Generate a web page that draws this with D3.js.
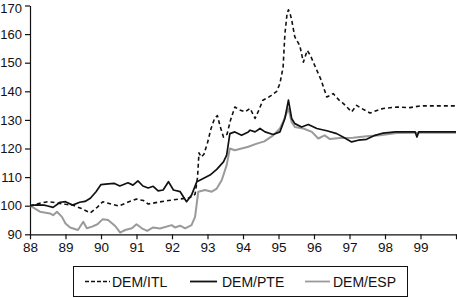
<!DOCTYPE html>
<html><head><meta charset="utf-8">
<script src="https://cdn.jsdelivr.net/npm/d3@7"></script>
<style>body{margin:0;background:#fff}svg{display:block;font-family:"Liberation Sans",Arial,sans-serif}</style>
</head><body><svg id="c" width="457" height="298"></svg>
<script>
const yearTicks = [88,89,90,91,92,93,94,95,96,97,98,99,100];
const valueTicks = [90,100,110,120,130,140,150,160,170];
const seriesNames = ["DEM/ITL","DEM/PTE","DEM/ESP"];

const itlT = [88,88.25,88.5,88.75,89,89.2,89.45,89.7,89.9,90.05,90.3,90.5,90.75,91,91.2,91.33,91.6,91.9,92.2,92.5,92.65,92.72,92.76,92.82,92.9,93,93.1,93.2,93.28,93.35,93.45,93.55,93.65,93.77,93.9,94.06,94.2,94.34,94.45,94.56,94.7,94.8,94.95,95.04,95.13,95.18,95.24,95.28,95.33,95.37,95.46,95.6,95.7,95.81,95.9,95.98,96.12,96.2,96.36,96.45,96.54,96.7,96.83,97.06,97.2,97.34,97.58,97.75,97.95,98.33,98.7,99,100];
const itlV = [100,100.8,101.4,101,100.5,100.2,99,97.5,99.5,101.4,100.5,99.9,101.2,102.3,101.8,100.6,101.2,101.8,102.3,102.8,104,110,118.5,117,118,122,127,130.5,131.5,128,124,125,130,134.5,133.5,132.8,134,130.5,133.5,136.9,137.8,138.6,140,142.7,148.5,160,167,168.5,167,165,159,156,150.2,154.3,152.5,150.2,146.2,144,138,138.5,139.2,137,135.7,132.8,135.1,134,132.4,133.2,134,134.5,134.3,134.9,134.9];

const pteT = [88,88.2,88.4,88.5,88.65,88.85,89,89.2,89.4,89.55,89.7,89.86,90,90.2,90.38,90.53,90.76,90.9,91.04,91.18,91.33,91.47,91.61,91.75,91.9,92.04,92.23,92.41,92.55,92.7,92.88,93.07,93.26,93.45,93.54,93.63,93.77,93.96,94.15,94.2,94.34,94.48,94.62,94.85,95.04,95.18,95.28,95.37,95.46,95.65,95.84,96.08,96.36,96.64,96.83,97.06,97.25,97.48,97.72,97.95,98.3,98.85,98.9,98.95,100];
const pteV = [100,100.3,100.2,99.9,99.4,101.2,101.4,100.2,101.2,101.5,102.6,104.9,107.4,107.6,107.8,106.9,108,107.2,108.7,106.9,106.2,106.8,105.2,105.5,108.4,105.5,104.9,101.4,103.7,108.4,109.5,110.7,112.7,115.3,117.7,125.2,125.8,124.6,125.8,126.4,125.8,127,125.8,124.9,125.8,130.5,136.9,130.5,128.7,127.5,128.4,127,126.2,125.2,123.9,122.3,122.9,123.2,124.6,125.4,125.8,125.8,124,125.8,125.8];

const espT = [88,88.28,88.56,88.65,88.76,88.9,89,89.13,89.35,89.5,89.6,89.75,89.9,90.05,90.2,90.4,90.54,90.68,90.87,91,91.15,91.3,91.47,91.66,91.99,92.08,92.23,92.37,92.55,92.65,92.74,92.93,93.12,93.26,93.4,93.54,93.63,93.77,93.96,94.15,94.39,94.6,94.85,95.04,95.13,95.28,95.37,95.46,95.7,95.94,96.12,96.3,96.45,96.73,97.1,97.48,97.86,98.33,99,100];
const espV = [100,97.9,97.3,96.7,97.9,96.1,93.8,92.4,91.5,94.4,92.1,92.7,93.5,95.3,95,92.9,90.6,91.5,92.1,93.5,92.1,91.2,92.4,92,93.2,92.4,93,92.1,93.2,96.1,104.9,105.5,104.9,106,108.9,114.2,120,119.4,120,120.6,121.7,122.5,124.6,127,129.3,134,129.3,127.5,127,125.8,123.5,124.6,123.3,123.7,123.8,124.3,124.6,125.4,125.5,125.5];

const svg = d3.select("#c");
const x = d3.scaleLinear().domain([88,100]).range([30,456]);
const y = d3.scaleLinear().domain([90,170]).range([234.3,5.5]);

svg.append("g").attr("transform","translate(0,234.3)")
  .call(d3.axisBottom(x).tickValues(yearTicks).tickSize(5).tickSizeOuter(0).tickFormat(d=>d<100?d:""))
  .call(g=>{g.selectAll("text").attr("font-size",13.5).attr("fill","#111").attr("font-family","Liberation Sans, Arial, sans-serif");g.selectAll("line,path").attr("stroke","#111").attr("stroke-width",1.2);});
svg.append("g").attr("transform","translate(30,0)")
  .call(d3.axisLeft(y).tickValues(valueTicks).tickSize(5).tickSizeOuter(0))
  .call(g=>{g.selectAll("text").attr("font-size",13).attr("fill","#111").attr("font-family","Liberation Sans, Arial, sans-serif")
      .attr("dy",d=>d===170?"0.5em":"0.32em");
    g.selectAll("line,path").attr("stroke","#111").attr("stroke-width",1.2);});

const line = d3.line().x(d=>x(d[0])).y(d=>y(d[1]));
const styles = [
  {t:espT,v:espV,color:"#9a9a9a",w:2,dash:null},
  {t:pteT,v:pteV,color:"#111",w:1.7,dash:null},
  {t:itlT,v:itlV,color:"#111",w:1.6,dash:"4,3"}
];
styles.forEach(s=>{
  svg.append("path").datum(s.t.map((t,i)=>[t,s.v[i]]))
    .attr("d",line).attr("fill","none").attr("stroke",s.color).attr("stroke-width",s.w)
    .attr("stroke-linejoin","round").attr("stroke-dasharray",s.dash);
});

// legend
const lg = svg.append("g");
lg.append("rect").attr("x",73.5).attr("y",266.5).attr("width",334).attr("height",30).attr("fill","#fff").attr("stroke","#111").attr("stroke-width",1);
const legendItems = [
  {name:seriesNames[0],x1:85,x2:110,tx:112,color:"#111",dash:"4,2",w:1.6},
  {name:seriesNames[1],x1:190,x2:217,tx:222,color:"#111",dash:null,w:1.8},
  {name:seriesNames[2],x1:305,x2:330,tx:333,color:"#9a9a9a",dash:null,w:1.8}
];
legendItems.forEach(it=>{
  lg.append("line").attr("x1",it.x1).attr("x2",it.x2).attr("y1",281.5).attr("y2",281.5)
    .attr("stroke",it.color).attr("stroke-width",it.w).attr("stroke-dasharray",it.dash);
  lg.append("text").attr("x",it.tx).attr("y",286.5).attr("font-size",14).attr("fill","#111").text(it.name);
});
</script></body></html>
